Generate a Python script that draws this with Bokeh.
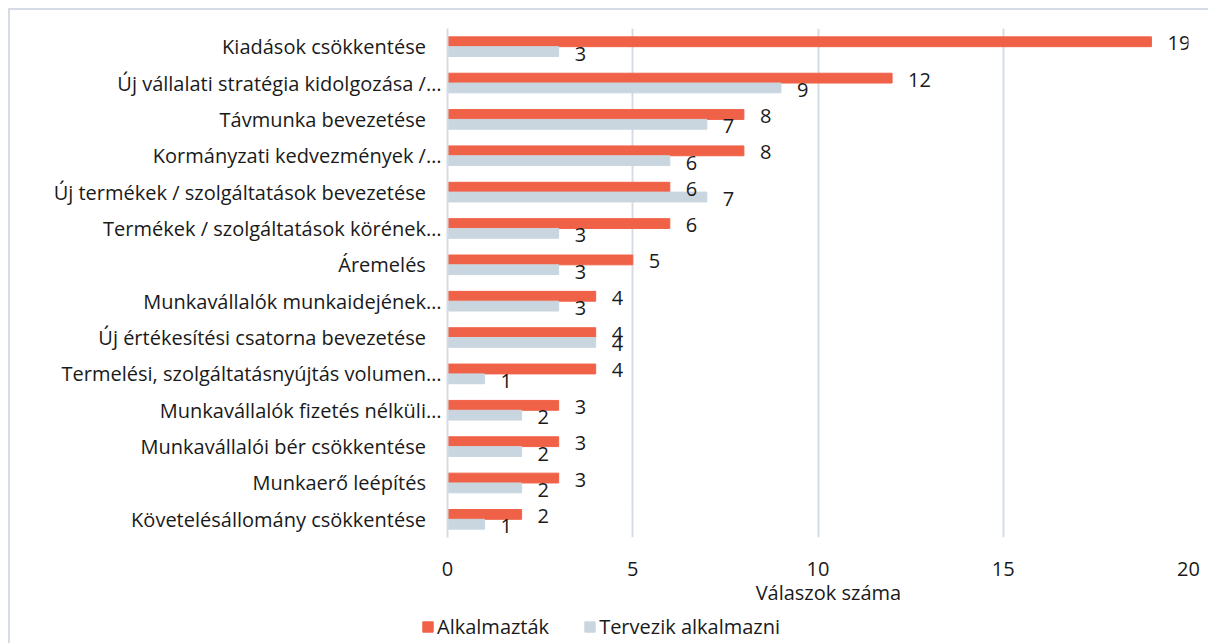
from bokeh.plotting import figure
from bokeh.layouts import column
from bokeh.models import (FactorRange, Range1d, Legend, LegendItem, ColumnDataSource,
                          FixedTicker, CustomJSTickFormatter)
from bokeh.transform import dodge
from bokeh.embed import file_html
from bokeh.resources import INLINE

categories = [
    "Kiadások csökkentése",
    "Új vállalati stratégia kidolgozása /…",
    "Távmunka bevezetése",
    "Kormányzati kedvezmények /…",
    "Új termékek / szolgáltatások bevezetése",
    "Termékek / szolgáltatások körének…",
    "Áremelés",
    "Munkavállalók munkaidejének…",
    "Új értékesítési csatorna bevezetése",
    "Termelési, szolgáltatásnyújtás volumen…",
    "Munkavállalók fizetés nélküli…",
    "Munkavállalói bér csökkentése",
    "Munkaerő leépítés",
    "Követelésállomány csökkentése",
]
alkalmaztak = [19, 12, 8, 8, 6, 6, 5, 4, 4, 4, 3, 3, 3, 2]
tervezik = [3, 9, 7, 6, 7, 3, 3, 3, 4, 1, 2, 2, 2, 1]
x_ticks = [0, 5, 10, 15, 20]
series_names = ["Alkalmazták", "Tervezik alkalmazni"]
x_title = "Válaszok száma"

FONT = "Open Sans"
FS = "20px"
ORANGE = "#F06248"
GRAY = "#CAD6DF"
GRID = "#D6DCE5"
TXT = "#1a1a1a"

src = ColumnDataSource(dict(
    cat=categories, a=alkalmaztak, t=tervezik,
    a_lbl=[str(v) for v in alkalmaztak], t_lbl=[str(v) for v in tervezik],
))

p = figure(
    width=1198, height=600,
    y_range=FactorRange(factors=list(reversed(categories)), range_padding=0),
    x_range=Range1d(0, 20),
    output_backend="svg", toolbar_location=None,
    min_border_left=437, min_border_right=20, min_border_top=18, min_border_bottom=73,
)

r1 = p.hbar(y=dodge("cat", 0.135, range=p.y_range), right="a", left=0, height=0.27,
            color=ORANGE, source=src)
r2 = p.hbar(y=dodge("cat", -0.135, range=p.y_range), right="t", left=0, height=0.27,
            color=GRAY, source=src)

p.text(x="a", y=dodge("cat", 0.135, range=p.y_range), text="a_lbl", source=src,
       x_offset=16, y_offset=1.5, text_baseline="middle", text_align="left",
       text_font={"value": FONT}, text_font_size=FS, text_color=TXT)
p.text(x="t", y=dodge("cat", -0.135, range=p.y_range), text="t_lbl", source=src,
       x_offset=16, y_offset=2, text_baseline="middle", text_align="left",
       text_font={"value": FONT}, text_font_size=FS, text_color=TXT)

p.outline_line_color = None
p.background_fill_color = "white"
p.border_fill_color = "white"

p.xaxis.ticker = FixedTicker(ticks=x_ticks)
p.xaxis.axis_line_color = None
p.xaxis.major_tick_line_color = None
p.xaxis.minor_tick_line_color = None
p.xaxis.major_label_standoff = 18
p.xaxis.major_label_text_font = FONT
p.xaxis.major_label_text_font_size = FS
p.xaxis.major_label_text_color = TXT
p.xaxis.axis_label = "\u00a0\u00a0\u00a0\u00a0" + x_title
p.xaxis.axis_label_text_font = FONT
p.xaxis.axis_label_text_font_size = FS
p.xaxis.axis_label_text_font_style = "normal"
p.xaxis.axis_label_text_color = TXT
p.xaxis.axis_label_standoff = 0

p.yaxis.axis_line_color = GRID
p.yaxis.axis_line_width = 2
p.yaxis.major_tick_line_color = None
p.yaxis.minor_tick_line_color = None
p.yaxis.major_label_standoff = 0
p.yaxis.major_label_text_font = FONT
p.yaxis.major_label_text_font_size = FS
p.yaxis.major_label_text_color = TXT
p.yaxis.formatter = CustomJSTickFormatter(
    code="return tick.endsWith('\u2026') ? tick : tick + '\u00a0\u00a0\u00a0';")

p.xgrid.grid_line_color = GRID
p.xgrid.grid_line_width = 2
p.ygrid.grid_line_color = None

# legend strip (its frame is aligned with the main plot's frame; shifted left by CSS)
p2 = figure(
    width=1198, height=33, x_range=Range1d(0, 1), y_range=Range1d(0, 1),
    x_axis_type=None, y_axis_type=None,
    output_backend="svg", toolbar_location=None,
    min_border_left=0, min_border_right=0, min_border_top=0, min_border_bottom=0,
)
p2.styles = {"margin-left": "-26px"}
p2.outline_line_color = None
p2.grid.grid_line_color = None
p2.border_fill_color = None
p2.background_fill_color = None
l1 = p2.hbar(y=[-5], right=[1], left=0, height=0.5, color=ORANGE)
l2 = p2.hbar(y=[-5], right=[1], left=0, height=0.5, color=GRAY)
legend = Legend(items=[LegendItem(label=series_names[0], renderers=[l1]),
                       LegendItem(label=series_names[1], renderers=[l2])],
                orientation="horizontal", location=(0, 3),
                glyph_width=13, glyph_height=13, label_standoff=3, spacing=34,
                label_height=20,
                padding=0, margin=0, border_line_color=None, background_fill_alpha=0,
                label_text_font=FONT, label_text_font_size=FS, label_text_color=TXT)
p2.add_layout(legend, "center")

layout = column(p, p2, spacing=0)
layout.styles = {"margin-left": "8px", "margin-top": "8px", "background-color": "white",
                 "border-left": "2px solid " + GRID, "border-top": "2px solid " + GRID}

open("out.html", "w").write(file_html(layout, INLINE))
